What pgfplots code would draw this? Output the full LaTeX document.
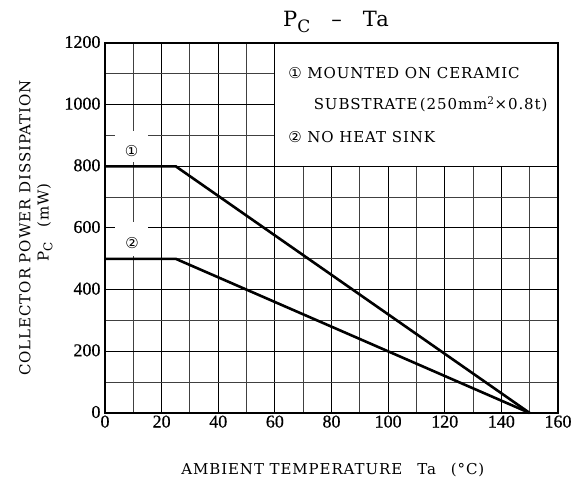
\documentclass[border=0pt]{standalone}
\usepackage{pgfplots}
\pgfplotsset{compat=1.18}
\usepackage{fontspec}
\setmainfont{DejaVu Serif}[LetterSpace=6]
\newfontfamily\tickfont{Liberation Serif}[FakeBold=0.6]
\newfontfamily\circfont{DejaVu Sans}
\begin{document}
\begin{tikzpicture}
\begin{axis}[
  width=453pt, height=370pt, scale only axis,
  xmin=0, xmax=160, ymin=0, ymax=1200,
  xtick={0,20,...,160}, ytick={0,200,...,1200},
  minor xtick={10,30,...,150}, minor ytick={100,300,...,1100},
  grid=both,
  major grid style={black, line width=1pt},
  minor grid style={black!75, line width=0.9pt},
  major tick length=0pt, minor tick length=0pt,
  axis line style={line width=2pt},
  tick label style={font=\tickfont\fontsize{18}{20}\selectfont},
  /pgf/number format/assume math mode=true,
  /pgf/number format/1000 sep={},
  xticklabel style={yshift=1pt},
  yticklabel style={xshift=-1pt, yshift=1pt},
  clip=false,
]
\addplot[black, line width=2.6pt] coordinates {(0,800) (25,800) (150,0)};
\addplot[black, line width=2.6pt] coordinates {(0,500) (25,500) (150,0)};
% legend box
\fill[white] (axis cs:60,800) rectangle (axis cs:160,1200);
\draw[black, line width=1pt] (axis cs:60,800) rectangle (axis cs:160,1200);
\node[anchor=west, font=\fontsize{15}{18}\selectfont] at (axis cs:63.5,1103) {{\circfont\fontsize{15}{18}\selectfont ①}\ MOUNTED ON CERAMIC};
\node[anchor=west, font=\fontsize{15}{18}\selectfont] at (axis cs:72.5,1002) {SUBSTRATE\,(250mm\textsuperscript{2}×0.8t)};
\node[anchor=west, font=\fontsize{15}{18}\selectfont] at (axis cs:63.5,895) {{\circfont\fontsize{15}{18}\selectfont ②}\ NO HEAT SINK};
% curve labels
\fill[white] (axis cs:3.5,815) rectangle (axis cs:15.2,915);
\fill[white] (axis cs:3.5,510) rectangle (axis cs:15.2,620);
\node[font=\circfont\fontsize{15}{18}\selectfont] at (axis cs:9.4,850) {①};
\node[font=\circfont\fontsize{15}{18}\selectfont] at (axis cs:9.6,552) {②};
\draw[line width=2pt] (rel axis cs:0,0) rectangle (rel axis cs:1,1);
% titles
\node[font=\fontsize{21}{24}\selectfont] at ([yshift=21pt]rel axis cs:0.51,1) {P\raisebox{-0.25em}{\fontsize{17}{20}\selectfont C}\quad–\quad Ta};
\node[font=\fontsize{15}{18}\selectfont] at ([yshift=-57pt]rel axis cs:0.503,0) {AMBIENT TEMPERATURE\quad Ta\quad (°C)};
\node[rotate=90, font=\fontsize{15}{18}\selectfont] at ([xshift=-80pt]rel axis cs:0,0.5) {COLLECTOR POWER DISSIPATION};
\node[rotate=90, font=\fontsize{15}{18}\selectfont] at ([xshift=-60pt]rel axis cs:0,0.515) {P\raisebox{-0.25em}{\fontsize{12}{14}\selectfont C}\quad(mW)};
\coordinate (bl) at ([xshift=-105pt,yshift=-71pt]rel axis cs:0,0);
\coordinate (tr) at ([xshift=22pt,yshift=43pt]rel axis cs:1,1);
\end{axis}
\pgfresetboundingbox
\useasboundingbox (bl) rectangle (tr);
\end{tikzpicture}
\end{document}
